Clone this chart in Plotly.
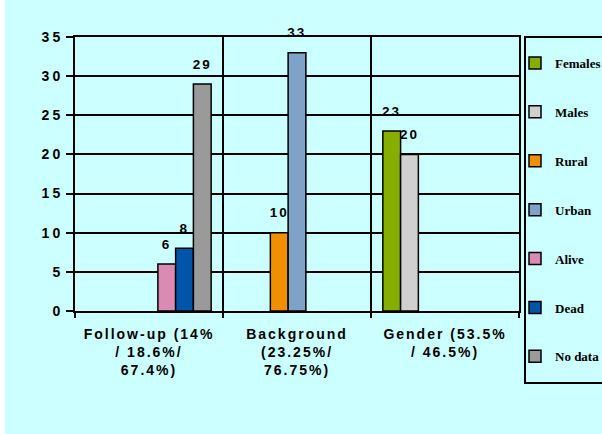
import plotly.graph_objects as go

categories = ["Follow-up (14%<br>/ 18.6%/<br>67.4%)",
              "Background<br>(23.25%/<br>76.75%)",
              "Gender (53.5%<br>/ 46.5%)"]
series_names = ["Females", "Males", "Rural", "Urban", "Alive", "Dead", "No data"]
females = [None, None, 23]
males = [None, None, 20]
rural = [None, 10, None]
urban = [None, 33, None]
alive = [6, None, None]
dead = [8, None, None]
no_data = [29, None, None]
series_values = [females, males, rural, urban, alive, dead, no_data]
colors = ["#86AE00", "#D0D0D0", "#F28F00", "#7FA3C8", "#DA8AB3", "#0055A8", "#9A9A9A"]
y_ticks = [0, 5, 10, 15, 20, 25, 30, 35]

BG = "#CCFFFF"
fig = go.Figure()
for name, vals, col in zip(series_names, series_values, colors):
    fig.add_trace(go.Bar(
        name=name, x=categories, y=vals, marker=dict(color=col, line=dict(color="black", width=1.5)),
        text=[("" if v is None else f"<span style='font-size:13.5px'>{v}</span><br>&nbsp;") for v in vals],
        textposition="outside",
        textfont=dict(family="Liberation Sans", size=8, color="black", weight="bold"),
        cliponaxis=False, legendgroup=name,
    ))

fig.update_layout(
    width=602, height=434,
    paper_bgcolor=BG, plot_bgcolor=BG,
    margin=dict(l=75, r=83, t=37, b=123, autoexpand=False),
    barmode="group", bargap=0.16, bargroupgap=0,
    showlegend=True,
    legend=dict(x=(525 - 75) / 444, xanchor="left", y=1 - 11 / 274, yanchor="top",
                bgcolor="rgba(0,0,0,0)", borderwidth=0, indentation=-10, maxheight=400,
                font=dict(family="Liberation Serif", size=13, color="black", weight="bold"),
                tracegroupgap=29, itemwidth=30, traceorder="grouped"),
    shapes=[dict(type="rect", xref="paper", yref="paper", x0=-75/444, x1=-70/444,
                 y0=-123/274, y1=1+37/274, fillcolor="white", line=dict(width=0), layer="below"),
            dict(type="rect", xref="paper", yref="paper", x0=(525 - 75) / 444, x1=(640 - 75) / 444,
                 y0=(311 - 383) / 274, y1=1, fillcolor=BG, line=dict(color="black", width=2), layer="below")],
)
fig.update_xaxes(showline=True, linecolor="black", linewidth=2, mirror=True,
                 ticks="outside", tickson="boundaries", ticklen=5, tickwidth=2, tickcolor="black",
                 showgrid=True, gridcolor="black", gridwidth=2, ticklabelstandoff=9,
                 tickfont=dict(family="Liberation Sans", size=14, color="black", weight="bold"))
fig.update_yaxes(range=[0, 35], tickvals=y_ticks, showline=True, linecolor="black", linewidth=2, mirror=True,
                 ticks="outside", ticklen=7, tickwidth=2, tickcolor="black",
                 showgrid=True, gridcolor="black", gridwidth=2, zeroline=False,
                 tickfont=dict(family="Liberation Sans", size=14, color="black", weight="bold"))

post = """
var st = document.createElement('style');
st.textContent = '.xtick text {letter-spacing: 2px;} .ytick text {letter-spacing: 3px;} .bartext text, text.bartext {letter-spacing: 2px;}';
document.head.appendChild(st);
"""
fig.write_html("out.html", post_script=post)
